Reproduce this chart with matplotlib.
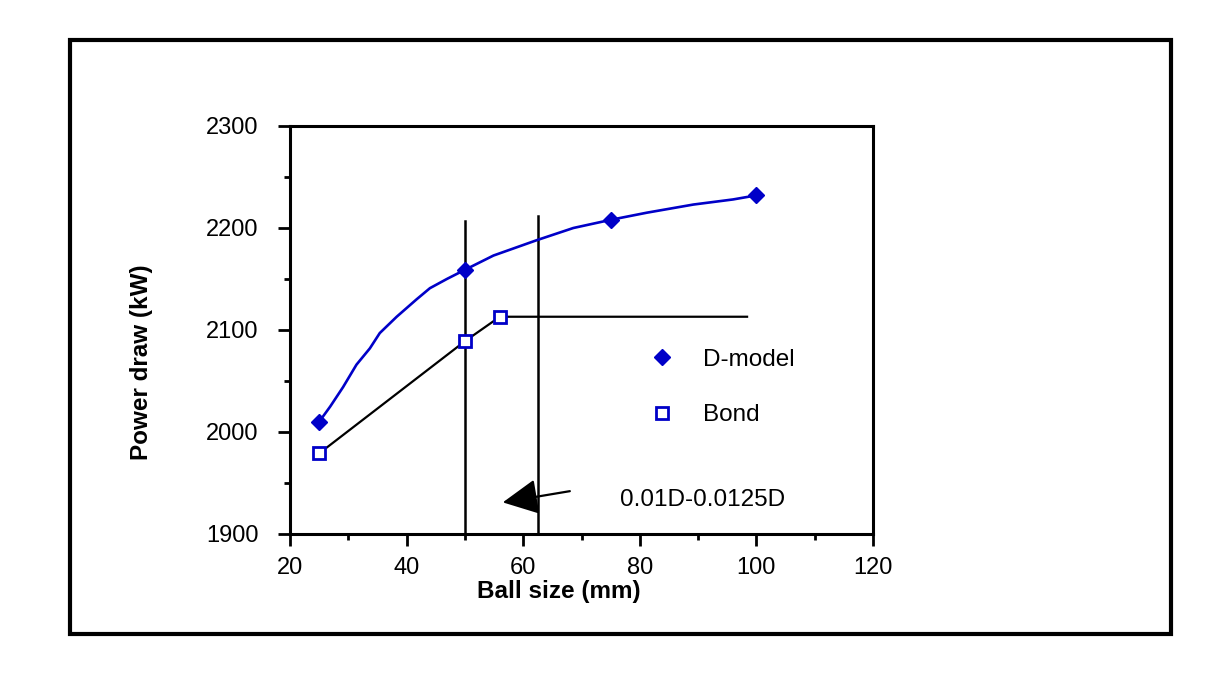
import matplotlib
matplotlib.use("Agg")
import matplotlib.pyplot as plt
from matplotlib.lines import Line2D
from matplotlib.patches import Rectangle
from matplotlib.ticker import MultipleLocator

plt.rcParams['font.family'] = ['Liberation Sans', 'DejaVu Sans']

# D-model points and the smooth model curve
dmodel_x = [25, 50, 75, 100]
dmodel_y = [2010, 2159, 2208, 2232]
curve_x = [25, 26.9, 29.1, 31.4, 33.7, 35.4, 38.3, 41.7, 44.0, 46.9, 50,
           54.9, 62.3, 68.6, 75, 81.2, 89.2, 96.0, 100]
curve_y = [2010, 2025, 2044, 2066, 2082, 2097, 2113, 2130, 2141, 2150, 2159,
           2173, 2188, 2200, 2208, 2215, 2223, 2228, 2232]

# Bond points and the plateau line
bond_x = [25, 50, 56]
bond_y = [1979, 2089, 2113]
bond_line_x = [25, 50, 56, 98.4]
bond_line_y = [1979, 2089, 2113, 2113]

# range 0.01D - 0.0125D markers
range_x = [50, 62.5]
range_top = [2207, 2212]

blue = '#0000C8'
fs = 17.5

fig = plt.figure(figsize=(12.32, 6.74), dpi=100)
ax = fig.add_axes([290 / 1232, 140 / 674, 583 / 1232, 408 / 674])

# outer frame
fig.patches.append(Rectangle((70 / 1232, 40 / 674), 1101 / 1232, 594 / 674,
                             transform=fig.transFigure, fill=False,
                             edgecolor='black', linewidth=3))

ax.plot(curve_x, curve_y, color=blue, linewidth=1.9, zorder=3)
ax.plot(dmodel_x, dmodel_y, linestyle='none', marker='D', markersize=8,
        color=blue, zorder=4)
ax.plot(bond_line_x, bond_line_y, color='black', linewidth=1.6, zorder=2)
ax.plot(bond_x, bond_y, linestyle='none', marker='s', markersize=8.5,
        markerfacecolor='white', markeredgecolor=blue, markeredgewidth=2,
        zorder=4)

for xv, top in zip(range_x, range_top):
    ax.plot([xv, xv], [1900, top], color='black', linewidth=1.8, zorder=2)

ax.annotate('', xy=(56.5, 1931), xytext=(68.0, 1942),
            arrowprops=dict(arrowstyle='-|>,head_length=1.1,head_width=0.55',
                            mutation_scale=20, color='black', linewidth=1.6,
                            shrinkA=0, shrinkB=0))
ax.text(76.6, 1933, '0.01D-0.0125D', fontsize=fs, ha='left', va='center')

ax.set_xlim(20, 120)
ax.set_ylim(1900, 2300)
ax.xaxis.set_major_locator(MultipleLocator(20))
ax.xaxis.set_minor_locator(MultipleLocator(10))
ax.yaxis.set_major_locator(MultipleLocator(100))
ax.yaxis.set_minor_locator(MultipleLocator(50))
ax.tick_params(axis='both', which='major', direction='out', length=8.5,
               width=2, labelsize=17)
ax.tick_params(axis='both', which='minor', direction='out', length=4.5,
               width=2)
ax.tick_params(axis='y', which='major', pad=14)
ax.tick_params(axis='x', which='major', pad=8)
for sp in ax.spines.values():
    sp.set_linewidth(2.2)

ax.text(0.461, -0.142, 'Ball size (mm)', transform=ax.transAxes,
        fontsize=fs, fontweight='bold', ha='center', va='center')
ax.text(-0.254, 0.42, 'Power draw (kW)', transform=ax.transAxes,
        fontsize=fs, fontweight='bold', ha='center', va='center',
        rotation=90)

handles = [Line2D([], [], linestyle='none', marker='D', markersize=8,
                  color=blue),
           Line2D([], [], linestyle='none', marker='s', markersize=8.5,
                  markerfacecolor='white', markeredgecolor=blue,
                  markeredgewidth=2)]
ax.legend(handles, ['D-model', 'Bond'], loc='upper left',
          bbox_to_anchor=(0.6005, 0.478), frameon=False, fontsize=fs,
          handlelength=1.0, handletextpad=1.19, labelspacing=1.38,
          borderaxespad=0)

fig.savefig('out.png', dpi=100)
